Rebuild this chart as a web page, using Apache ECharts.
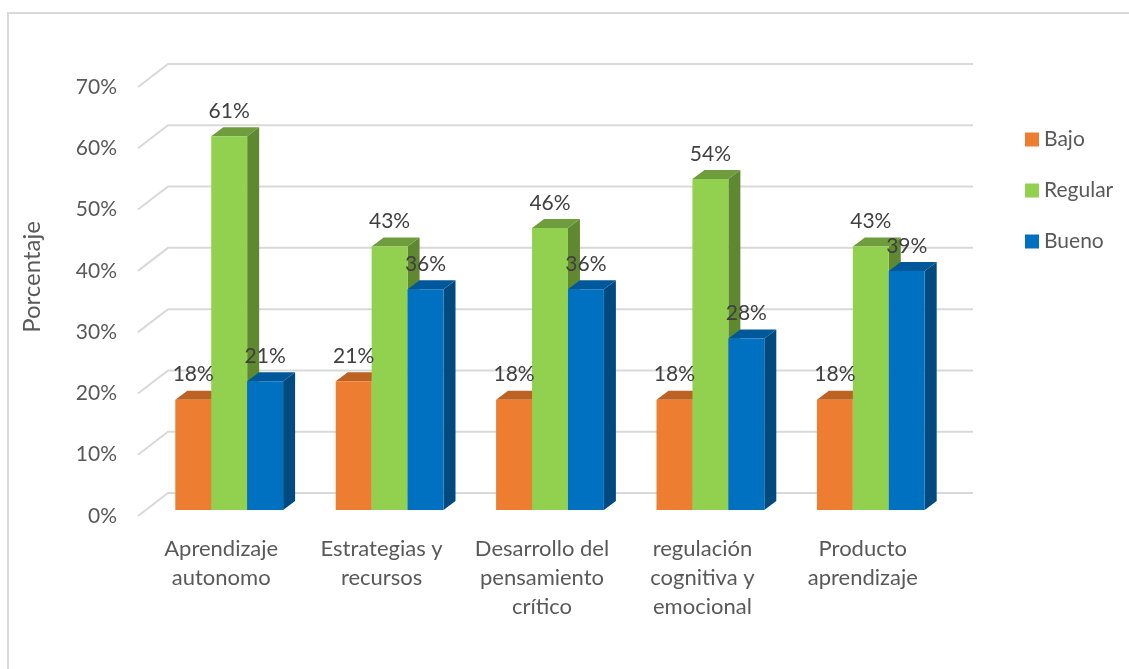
<!DOCTYPE html>
<html><head><meta charset="utf-8">
<script src="https://cdn.jsdelivr.net/npm/echarts@6/dist/echarts.min.js"></script>
<style>html,body{margin:0;padding:0;background:#fff}#c{width:1129px;height:669px}</style>
</head><body><div id="c"></div>
<script>
const categories = ['Aprendizaje\nautonomo', 'Estrategias y\nrecursos', 'Desarrollo del\npensamiento\ncrítico', 'regulación\ncognitiva y\nemocional', 'Producto\naprendizaje'];
const seriesNames = ['Bajo', 'Regular', 'Bueno'];
const bajo = [18, 21, 18, 18, 18];
const regular = [61, 43, 46, 54, 43];
const bueno = [21, 36, 36, 28, 39];
const yTicks = [0, 10, 20, 30, 40, 50, 60, 70];
const yAxisTitle = 'Porcentaje';

const FONT = 'Lato, "Open Sans", sans-serif';
const palette = [
  { front: '#ED7D31', top: '#BC6223', side: '#A9561E' },
  { front: '#92D050', top: '#6F9C3D', side: '#5E8930' },
  { front: '#0070C0', top: '#00589A', side: '#004A80' }
];
const DX0 = 8, DY0 = -6;       // bar plane offset from front floor plane
const SDX = 12, SDY = -9;      // bar depth
const WDX = 30, WDY = -23;     // back wall offset

const seriesData = [bajo, regular, bueno];

function barGeom(si, params, api) {
  const cat = api.value(0), v = api.value(1);
  const band = api.size([1, 0])[0];
  const bw = band * 0.224;
  const c = api.coord([cat, v]);
  const b = api.coord([cat, 0]);
  const x0 = c[0] - 1.5 * bw + si * bw + DX0;
  return { x0: x0, x1: x0 + bw, yt: c[1] + DY0, yb: b[1] + DY0, bw: bw };
}

function barRender(si) {
  return function (params, api) {
    const g = barGeom(si, params, api);
    const p = palette[si];
    return {
      type: 'group', children: [
        { type: 'polygon', shape: { points: [[g.x1, g.yb], [g.x1 + SDX, g.yb + SDY], [g.x1 + SDX, g.yt + SDY], [g.x1, g.yt]] }, style: { fill: p.side } },
        { type: 'polygon', shape: { points: [[g.x0, g.yt], [g.x0 + SDX, g.yt + SDY], [g.x1 + SDX, g.yt + SDY], [g.x1, g.yt]] }, style: { fill: p.top } },
        { type: 'rect', shape: { x: g.x0, y: g.yt, width: g.bw, height: g.yb - g.yt }, style: { fill: p.front } }
      ]
    };
  };
}

function labelRender(si) {
  return function (params, api) {
    const g = barGeom(si, params, api);
    return {
      type: 'text',
      style: {
        text: api.value(1) + '%', x: (g.x0 + g.x1) / 2, y: g.yt - 25,
        align: 'center', verticalAlign: 'middle',
        fill: '#404040', font: '21px ' + FONT
      }
    };
  };
}

function gridRender(params, api) {
  const v = api.value(1);
  const y = api.coord([0, v])[1];
  const xl = params.coordSys.x - 3;
  const xr = params.coordSys.x + params.coordSys.width;
  return {
    type: 'polyline',
    shape: { points: [[xl, y], [xl + WDX, y + WDY], [xr + WDX, y + WDY]] },
    style: { stroke: '#D9D9D9', lineWidth: 2, fill: null }
  };
}

const series = [{
  type: 'custom', name: 'grid', renderItem: gridRender, silent: true, z: 1,
  data: yTicks.map(v => [0, v])
}];
seriesNames.forEach((n, si) => {
  series.push({
    type: 'custom', name: n, z: 2,
    itemStyle: { color: palette[si].front },
    renderItem: barRender(si),
    data: seriesData[si].map((v, i) => [i, v])
  });
});
seriesNames.forEach((n, si) => {
  series.push({
    type: 'custom', name: n + '_label', z: 5, silent: true,
    renderItem: labelRender(si),
    data: seriesData[si].map((v, i) => [i, v])
  });
});

const chart = echarts.init(document.getElementById('c'));
chart.setOption({
  animation: false,
  backgroundColor: '#ffffff',
  textStyle: { fontFamily: FONT },
  grid: { left: 141, right: 186, top: 87, bottom: 153, containLabel: false },
  xAxis: {
    type: 'category', data: categories,
    axisLine: { show: false }, axisTick: { show: false },
    axisLabel: { interval: 0, color: '#595959', fontSize: 22, lineHeight: 29, margin: 18, fontFamily: FONT }
  },
  yAxis: {
    type: 'value', min: 0, max: 70, interval: 10,
    axisLine: { show: false }, axisTick: { show: false }, splitLine: { show: false },
    axisLabel: { formatter: '{value}%', color: '#595959', fontSize: 21, margin: 24, fontFamily: FONT }
  },
  legend: {
    data: seriesNames, orient: 'vertical', left: 1020, top: 124,
    icon: 'rect', itemWidth: 14, itemHeight: 14, itemGap: 30,
    textStyle: { color: '#595959', fontSize: 21, fontFamily: FONT }
  },
  graphic: [
    { type: 'rect', shape: { x: 8, y: 13, width: 1300, height: 800 }, style: { stroke: '#D9D9D9', lineWidth: 2, fill: null }, silent: true },
    { type: 'text', x: 32, y: 277, rotation: Math.PI / 2,
      style: { text: yAxisTitle, align: 'center', verticalAlign: 'middle', fill: '#595959', font: '24px ' + FONT } }
  ],
  series: series
});
</script></body></html>
